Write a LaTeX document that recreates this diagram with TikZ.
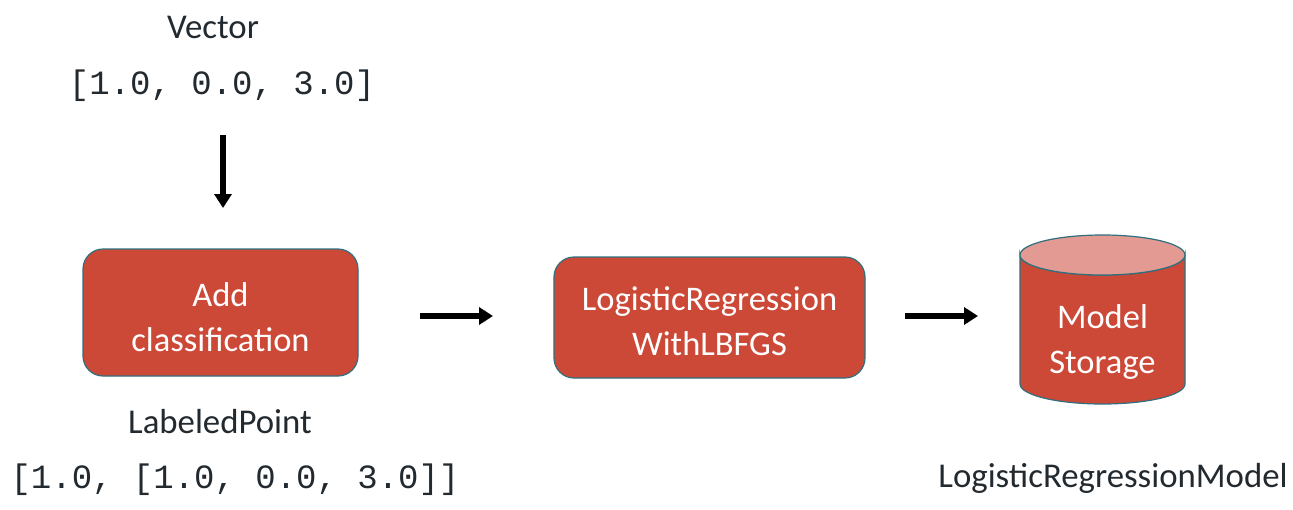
\documentclass[tikz,border=0pt]{standalone}
\usepackage{fontspec}
\setmainfont{Carlito}
\setmonofont{Liberation Mono}
\usetikzlibrary{arrows.meta}
\definecolor{boxred}{HTML}{CC4837}
\definecolor{boxedge}{HTML}{2F6F7E}
\definecolor{toppink}{HTML}{E39A92}
\definecolor{txt}{HTML}{222A30}
\begin{document}
\begin{tikzpicture}[x=1pt,y=-1pt,
  lbl/.style={text=txt,font=\fontsize{34.8}{40}\selectfont,inner sep=0pt},
  code/.style={text=txt,font=\ttfamily\fontsize{34}{40}\selectfont,inner sep=0pt},
  procbox/.style={draw=boxedge,line width=1.2pt,fill=boxred,rounded corners=20pt,inner sep=0pt},
  boxtext/.style={text=white,align=center,font=\fontsize{34.5}{45}\selectfont,inner sep=0pt},
  flow/.style={line width=6pt,-{Triangle[length=14pt,width=17pt]}}]
\useasboundingbox (0,0) rectangle (1293,509);
% top labels
\node[lbl] (vec) at (213,27) {Vector};
\node[code] (veccode) at (222,86) {[1.0, 0.0, 3.0]};
\coordinate (arrtop) at (223,135);
% boxes
\node[procbox,minimum width=275pt,minimum height=127pt] (add) at (220.5,312.5) {};
\node[boxtext] (addtxt) at (220.5,317) {Add\\classification};
\node[procbox,minimum width=311pt,minimum height=121pt] (lr) at (709.5,317.5) {};
\node[boxtext] (lrtxt) at (709.5,321) {LogisticRegression\\WithLBFGS};
% cylinder
\path[draw=boxedge,line width=1.2pt,fill=boxred]
  (1020,255) -- (1020,384) arc[start angle=180,end angle=360,x radius=82.5pt,y radius=20pt]
  -- (1185,255) arc[start angle=0,end angle=180,x radius=82.5pt,y radius=-20pt] -- cycle;
\path[draw=boxedge,line width=1.2pt,fill=toppink] (1102.5,255) ellipse[x radius=82.5pt,y radius=20pt];
\node[boxtext] (store) at (1102.5,342) {Model\\Storage};
% bottom labels
\node[lbl] (lp) at (220,422) {LabeledPoint};
\node[code] (lpcode) at (235,480) {[1.0, [1.0, 0.0, 3.0]]};
\node[lbl] (lrm) at (1113,478) {LogisticRegressionModel};
% arrows
\coordinate (a1s) at (420,316);
\coordinate (a2s) at (905,316);
\draw[flow] (arrtop) -- (223,208);
\draw[flow] (a1s) -- (493,316);
\draw[flow] (a2s) -- (978,316);
\end{tikzpicture}
\end{document}
